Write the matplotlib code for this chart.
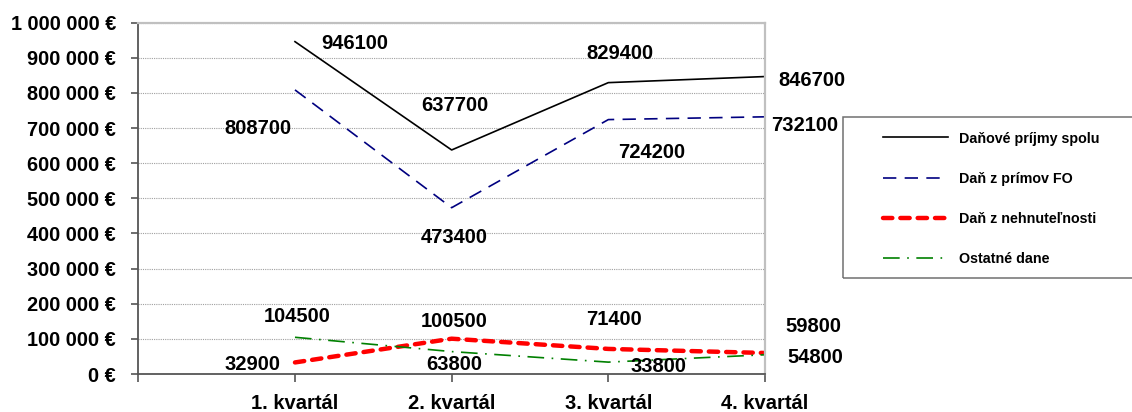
import matplotlib
matplotlib.use('Agg')
import matplotlib.pyplot as plt
from matplotlib.patches import Rectangle
from matplotlib.ticker import FuncFormatter

plt.rcParams['font.family'] = ['Liberation Sans', 'DejaVu Sans']
plt.rcParams['font.weight'] = 'bold'

quarters = ['1. kvartál', '2. kvartál', '3. kvartál', '4. kvartál']
spolu = [946100, 637700, 829400, 846700]
dan_fo = [808700, 473400, 724200, 732100]
nehnutelnost = [32900, 100500, 71400, 59800]
ostatne = [104500, 63800, 33800, 54800]

# label offsets in pixels (dx, dy), dy positive = up
off_spolu = [(60, -2), (3, 44), (12, 29), (47, -3.5)]
off_fo = [(-37, -39), (3, -30), (43, -33), (40, -9)]
off_neh = [(-42, -2), (3, 17), (6, 29), (48, 26)]
off_ost = [(2, 21), (3, -13), (50, -4), (50, -3)]

W, H = 1132, 412
fig = plt.figure(figsize=(W / 100, H / 100), dpi=100)
ax = fig.add_axes([138.3 / W, 1 - 374 / H, (765 - 138.3) / W, (374 - 22.7) / H])

x = [1, 2, 3, 4]
ax.plot(x, spolu, color='black', lw=1.2, label='Daňové príjmy spolu')
ax.plot(x, dan_fo, color='#000080', lw=1.2, dashes=(8, 5), label='Daň z prímov FO')
ax.plot(x, nehnutelnost, color='#ff0000', lw=3.2, dashes=(2.1, 1.8),
        dash_capstyle='round', label='Daň z nehnuteľnosti')
ax.plot(x, ostatne, color='#008000', lw=1.2, dashes=(10, 4.5, 1, 4.5), label='Ostatné dane')

for vals, offs in [(spolu, off_spolu), (dan_fo, off_fo), (nehnutelnost, off_neh), (ostatne, off_ost)]:
    for xi, v, (dx, dy) in zip(x, vals, offs):
        ax.annotate(str(v), (xi, v), xytext=(dx * 0.72, dy * 0.72), textcoords='offset points',
                    ha='center', va='center', fontsize=14.5, fontweight='bold', annotation_clip=False)

ax.set_xlim(0, 4)
ax.set_ylim(0, 1000000)
ax.set_yticks(range(0, 1000001, 100000))
ax.yaxis.set_major_formatter(FuncFormatter(lambda v, p: f'{int(v):,}'.replace(',', ' ') + ' €'))
ax.set_xticks([0, 1, 2, 3, 4])
ax.set_xticklabels([''] + quarters)
ax.tick_params(axis='y', direction='out', length=5, width=1.2, color='#555555', pad=11, labelsize=14.3)
ax.tick_params(axis='x', direction='out', length=6, width=1.2, color='#555555', pad=8.5, labelsize=14.5)
for t in ax.get_xticklabels() + ax.get_yticklabels():
    t.set_fontweight('bold')

ax.grid(axis='y', color='#a0a0a0', linestyle=(0, (1, 1)), lw=0.8)
ax.set_axisbelow(True)
for s in ['left', 'bottom']:
    ax.spines[s].set_color('#555555')
    ax.spines[s].set_linewidth(1.3)
for s in ['top', 'right']:
    ax.spines[s].set_color('#c0c0c0')
    ax.spines[s].set_linewidth(1.6)

# legend box
fig.patches.append(Rectangle((843 / W, 1 - 278 / H), 310 / W, (278 - 117) / H,
                             transform=fig.transFigure, fill=False, edgecolor='#707070', lw=1.1))
fig.legend(loc='upper left', bbox_to_anchor=(883 / W, 1 - 131.5 / H), frameon=False,
           borderpad=0, borderaxespad=0, handlelength=4.55, handletextpad=0.77,
           labelspacing=1.83, prop={'size': 10.3, 'weight': 'bold'})

fig.savefig('out.png', dpi=100)
